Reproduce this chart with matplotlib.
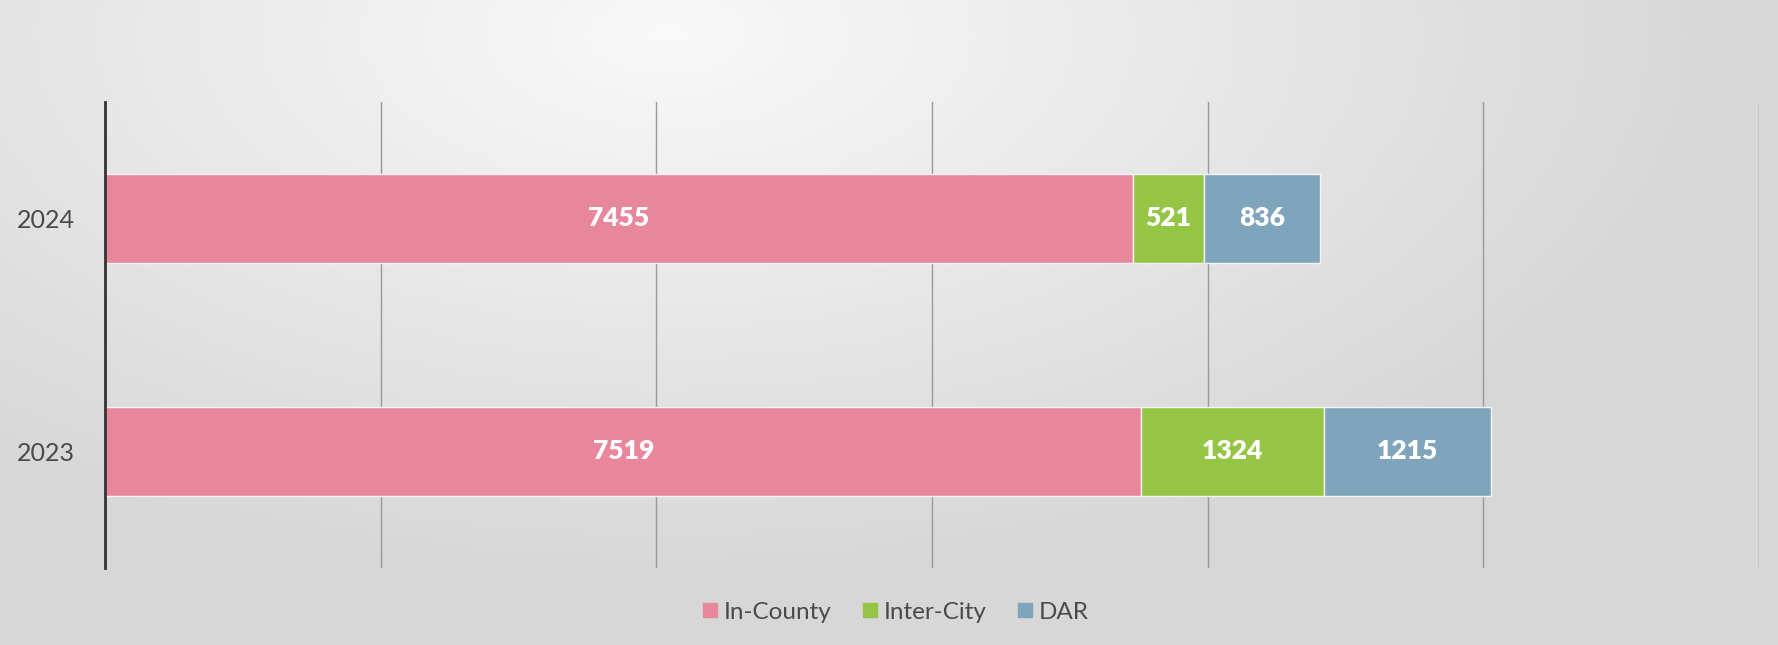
import numpy as np
import matplotlib.pyplot as plt
from matplotlib.patches import Patch

# Trip counts by year
years = ["2023", "2024"]
series = ["In-County", "Inter-City", "DAR"]
in_county = [7519, 7455]
inter_city = [1324, 521]
dar = [1215, 836]
colors = ["#E8879C", "#95C545", "#7FA5BD"]

plt.rcParams['font.family'] = ['Lato', 'DejaVu Sans']

fig = plt.figure(figsize=(17.78, 6.45), dpi=100)

# scanned-paper style background: near white upper middle, grey at the edges
bg = fig.add_axes([0, 0, 1, 1], zorder=-10)
gx, gy = np.meshgrid(np.linspace(-1, 1, 400), np.linspace(-1, 1, 150))
r = np.clip(np.sqrt(((gx + 0.25) / 1.2) ** 2 + ((gy + 0.9) / 1.7) ** 2), 0, 1)
shade = 0.975 - 0.13 * r
img = np.dstack([shade, shade, shade])
bg.imshow(img, aspect="auto", extent=[0, 1, 0, 1], origin="upper")
bg.axis("off")

ax = fig.add_axes([0.0591, 0.1194, 0.9302, 0.7225])
ax.set_facecolor("none")

y = np.arange(len(years))
left = np.zeros(len(years))
for vals, name, c in zip([in_county, inter_city, dar], series, colors):
    bars = ax.barh(y, vals, left=left, height=0.385, color=c,
                   edgecolor="#f4f4f4", linewidth=1.0, label=name, zorder=3)
    for b, v in zip(bars, vals):
        ax.text(b.get_x() + b.get_width() / 2, b.get_y() + b.get_height() / 2,
                str(v), ha="center", va="center", color="white",
                fontsize=19, fontweight="heavy", zorder=4)
    left += np.array(vals)

ax.set_xlim(0, 12000)
ax.set_ylim(-0.5, 1.5)
ax.set_xticks(range(0, 12001, 2000))
ax.set_xticklabels([])
ax.set_yticks(y)
ax.set_yticklabels(years, fontsize=18, color="#4a4a4a")
ax.tick_params(length=0, pad=22)
ax.grid(axis="x", color="#999999", linewidth=1.0, zorder=0)
for s in ["top", "right", "bottom"]:
    ax.spines[s].set_visible(False)
ax.spines["left"].set_color("#333333")
ax.spines["left"].set_linewidth(2)
ax.spines["left"].set_zorder(5)

handles = [Patch(color=c, label=n) for c, n in zip(colors, series)]
fig.legend(handles=handles, loc="center", bbox_to_anchor=(0.504, 0.051), ncol=3,
           frameon=False, handlelength=0.55, handleheight=0.55,
           handletextpad=0.3, columnspacing=1.3, labelcolor="#4a4a4a",
           prop={"size": 17.5})

plt.savefig("out.png", dpi=100)
